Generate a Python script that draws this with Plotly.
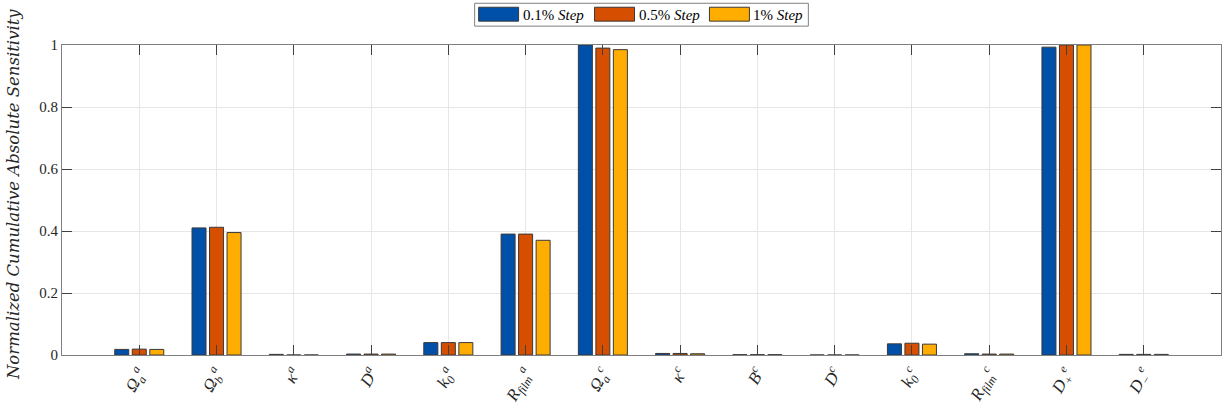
import plotly.graph_objects as go

# Parameters (x-axis categories), written with HTML sub/superscripts
params = [
    "<i>Ω<sub>a</sub><sup>a</sup></i>",
    "<i>Ω<sub>b</sub><sup>a</sup></i>",
    "<i>κ<sup>a</sup></i>",
    "<i>D<sup>a</sup></i>",
    "<i>k<sub>0</sub><sup>a</sup></i>",
    "<i>R<sub>film</sub><sup>a</sup></i>",
    "<i>Ω<sub>a</sub><sup>c</sup></i>",
    "<i>κ<sup>c</sup></i>",
    "<i>B<sup>c</sup></i>",
    "<i>D<sup>c</sup></i>",
    "<i>k<sub>0</sub><sup>c</sup></i>",
    "<i>R<sub>film</sub><sup>c</sup></i>",
    "<i>D<sub>+</sub><sup>e</sup></i>",
    "<i>D<sub>−</sub><sup>e</sup></i>",
]

# Normalized cumulative absolute sensitivity per perturbation step size
step_01 = [0.018, 0.410, 0.002, 0.003, 0.040, 0.390, 1.000, 0.005, 0.001, 0.000, 0.036, 0.004, 0.993, 0.002]
step_05 = [0.019, 0.412, 0.000, 0.003, 0.040, 0.390, 0.990, 0.005, 0.001, 0.000, 0.038, 0.003, 1.000, 0.002]
step_1 = [0.018, 0.395, 0.000, 0.003, 0.040, 0.370, 0.985, 0.004, 0.001, 0.000, 0.035, 0.003, 1.000, 0.002]

series_names = ["0.1% <i>Step</i>", "0.5% <i>Step</i>", "1% <i>Step</i>"]
colors = ["#0050AA", "#D64F00", "#FFAD00"]
edge_color = "#3a3a3a"

x_pos = list(range(1, len(params) + 1))

W, H = 1226, 410
L, R, T, B = 62, 4, 45, 53
plot_w, plot_h = W - L - R, H - T - B


def px_x(px):
    return (px - L) / plot_w


def px_y(py):
    return (H - B - py) / plot_h


fig = go.Figure()
for name, vals, col in zip(series_names, [step_01, step_05, step_1], colors):
    fig.add_trace(go.Bar(
        x=x_pos, y=vals, name=name, showlegend=False,
        marker=dict(color=col, line=dict(color=edge_color, width=1)),
    ))

font_family = "Liberation Serif, DejaVu Serif, serif"

# Legend box with wide colour swatches, laid out above the axes
shapes = [dict(type="rect", xref="paper", yref="paper",
               x0=px_x(475), x1=px_x(809), y0=px_y(26), y1=px_y(3),
               line=dict(color="#7f7f7f", width=1), fillcolor="white", layer="above")]
annotations = []
swatch_left = [479, 595, 710]
for name, col, sx in zip(series_names, colors, swatch_left):
    shapes.append(dict(type="rect", xref="paper", yref="paper",
                       x0=px_x(sx), x1=px_x(sx + 40), y0=px_y(21), y1=px_y(7),
                       line=dict(color=edge_color, width=1), fillcolor=col, layer="above"))
    annotations.append(dict(x=px_x(sx + 42), y=px_y(14.5), xref="paper", yref="paper",
                            text=name, showarrow=False, xanchor="left", yanchor="middle",
                            font=dict(size=15, color="#000000")))

# Vertical axis title
annotations.append(dict(x=px_x(13), y=px_y(196), xref="paper", yref="paper",
                        text="<i>Normalized Cumulative Absolute Sensitivity</i>",
                        textangle=-90, showarrow=False, xanchor="center", yanchor="middle",
                        font=dict(family="DejaVu Serif, serif", size=16.5, color="#262626")))

fig.update_layout(
    width=W, height=H,
    margin=dict(l=L, r=R, t=T, b=B),
    paper_bgcolor="white", plot_bgcolor="white",
    barmode="group", bargap=0.32, bargroupgap=0.2,
    font=dict(family=font_family, size=14, color="#262626"),
    showlegend=False,
    shapes=shapes, annotations=annotations,
    xaxis=dict(
        range=[0, 15], tickmode="array", tickvals=x_pos, ticktext=params,
        tickangle=-60, tickfont=dict(size=17, color="#262626"),
        showgrid=True, gridcolor="#e6e6e6", gridwidth=1,
        showline=True, linecolor="#808080", linewidth=1, mirror="ticks",
        ticks="inside", ticklen=10, tickcolor="#404040",
        layer="above traces", zeroline=False,
    ),
    yaxis=dict(
        range=[0, 1], tickvals=[0, 0.2, 0.4, 0.6, 0.8, 1],
        ticktext=["0", "0.2", "0.4", "0.6", "0.8", "1"],
        tickfont=dict(size=15, color="#262626"),
        showgrid=True, gridcolor="#e6e6e6", gridwidth=1,
        showline=True, linecolor="#808080", linewidth=1, mirror="ticks",
        ticks="inside", ticklen=10, tickcolor="#404040",
        layer="above traces", zeroline=False,
    ),
)

fig.write_html("out.html")
